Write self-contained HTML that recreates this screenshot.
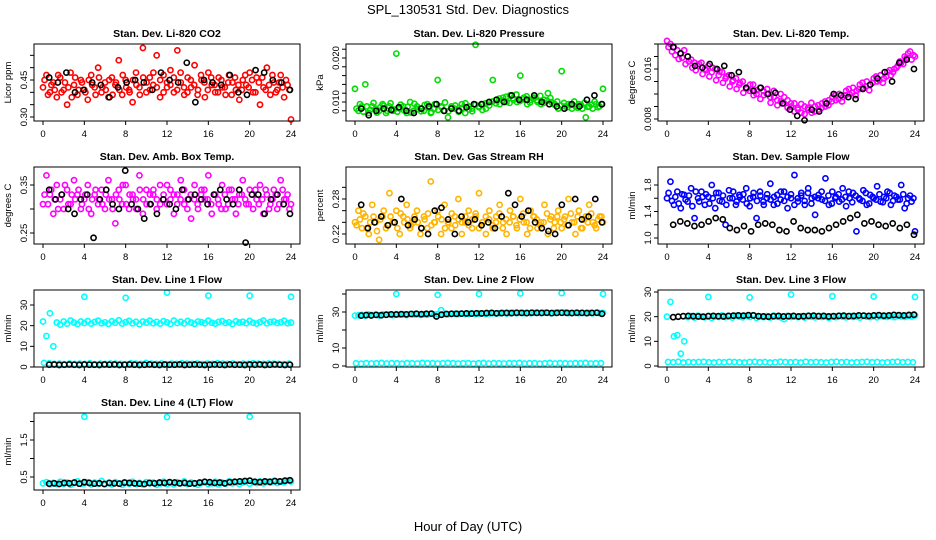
<!DOCTYPE html>
<html><head><meta charset="utf-8">
<style>
body{margin:0;background:#fff;}
svg{display:block;font-family:"Liberation Sans",sans-serif;}
</style></head>
<body>
<svg id="chart" width="936" height="540" viewBox="0 0 936 540" xmlns="http://www.w3.org/2000/svg">
<text x="468" y="14" text-anchor="middle" font-size="13">SPL_130531  Std. Dev. Diagnostics</text>
<text x="468" y="531" text-anchor="middle" font-size="13">Hour of Day (UTC)</text>
</svg>
<script>
// ---------- data ----------
const xTicks = [0,4,8,12,16,20,24];
const co2Red = [0.42,0.47,0.40,0.44,0.38,0.46,0.41,0.35,0.48,0.43,0.39,0.45,0.41,0.37,0.47,0.42,0.50,0.40,0.44,0.38,0.46,0.43,0.53,0.39,0.45,0.41,0.36,0.48,0.42,0.58,0.40,0.46,0.43,0.55,0.38,0.47,0.42,0.49,0.40,0.57,0.44,0.39,0.46,0.42,0.51,0.41,0.45,0.38,0.48,0.43,0.40,0.46,0.42,0.39,0.47,0.44,0.41,0.37,0.45,0.43,0.48,0.40,0.46,0.35,0.42,0.50,0.39,0.44,0.41,0.47,0.38,0.43,0.29];
const co2Red2 = [0.45,0.39,0.43,0.41,0.47,0.40,0.44,0.42,0.38,0.46,0.41,0.44,0.40,0.45,0.43,0.39,0.46,0.42,0.41,0.45,0.39,0.44,0.41,0.47,0.42,0.40,0.45,0.43,0.39,0.46,0.44,0.41,0.48,0.42,0.45,0.40,0.44,0.43,0.46,0.41,0.48,0.42,0.40,0.45,0.43,0.39,0.47,0.44,0.41,0.46,0.43,0.40,0.45,0.42,0.44,0.39,0.46,0.43,0.41,0.47,0.42,0.45,0.40,0.44,0.46,0.41,0.43,0.47,0.40,0.44,0.42,0.45,0.41];
const co2Black = [0.46,0.44,0.48,0.40,0.41,0.44,0.43,0.38,0.42,0.44,0.45,0.44,0.41,0.48,0.45,0.44,0.52,0.36,0.45,0.44,0.43,0.47,0.40,0.39,0.49,0.48,0.45,0.44,0.41];
const presGreen = [0.013,0.008,0.009,0.014,0.0075,0.009,0.0085,0.008,0.0095,0.0075,0.009,0.008,0.021,0.0085,0.009,0.0075,0.010,0.008,0.009,0.0085,0.008,0.0095,0.0075,0.0085,0.015,0.009,0.008,0.0065,0.009,0.0085,0.008,0.0095,0.0075,0.009,0.0085,0.023,0.009,0.0095,0.0085,0.010,0.015,0.0105,0.0095,0.011,0.010,0.0115,0.0105,0.010,0.016,0.011,0.0095,0.0105,0.011,0.010,0.0095,0.0105,0.012,0.010,0.0095,0.0085,0.017,0.009,0.0095,0.0085,0.009,0.0095,0.0085,0.0065,0.009,0.0085,0.0095,0.009,0.013];
const presGreen2 = [0.0085,0.0095,0.0078,0.009,0.0082,0.0098,0.0076,0.0088,0.0092,0.008,0.0097,0.0083,0.0078,0.0094,0.0081,0.0089,0.0076,0.0096,0.0084,0.0079,0.0093,0.0087,0.0077,0.0095,0.0082,0.0088,0.0099,0.0079,0.0086,0.0092,0.0078,0.0087,0.0097,0.0083,0.0079,0.0094,0.0088,0.0082,0.0097,0.0092,0.0101,0.0097,0.0108,0.0103,0.0112,0.0098,0.0109,0.0117,0.0102,0.0106,0.0113,0.0099,0.0108,0.0104,0.0114,0.0098,0.0103,0.0109,0.0095,0.0101,0.0092,0.0098,0.0088,0.0094,0.0101,0.0087,0.0093,0.0098,0.0089,0.0094,0.0101,0.0088,0.0095];
const presBlack = [0.0085,0.007,0.008,0.0085,0.0082,0.0088,0.008,0.0075,0.0085,0.009,0.0095,0.008,0.0085,0.008,0.0088,0.0095,0.0095,0.010,0.0105,0.010,0.0115,0.0105,0.0105,0.0115,0.010,0.0095,0.009,0.0085,0.0095,0.009,0.0105,0.0115,0.0095];
const tempMag = [0.0205,0.020,0.0195,0.019,0.0185,0.019,0.018,0.0175,0.017,0.0165,0.017,0.016,0.0165,0.0155,0.016,0.015,0.0155,0.0145,0.015,0.014,0.0145,0.0135,0.014,0.013,0.0125,0.0135,0.012,0.013,0.0125,0.012,0.0115,0.0125,0.011,0.012,0.0105,0.011,0.0100,0.0105,0.0095,0.0090,0.0100,0.0095,0.0090,0.0100,0.0095,0.0105,0.010,0.011,0.0115,0.011,0.012,0.0115,0.0125,0.012,0.013,0.0125,0.0135,0.013,0.014,0.0135,0.0145,0.014,0.015,0.0145,0.0155,0.015,0.016,0.0165,0.017,0.018,0.0185,0.0175,0.018];
const tempMag2 = [0.0195,0.0188,0.0182,0.0176,0.0178,0.0168,0.0172,0.0162,0.0158,0.0168,0.0152,0.0158,0.0148,0.0162,0.0142,0.0156,0.0138,0.0148,0.0132,0.0142,0.0128,0.0138,0.0122,0.0128,0.0135,0.0118,0.0126,0.0112,0.0118,0.0128,0.0106,0.0115,0.0102,0.0108,0.0115,0.0098,0.0105,0.0092,0.0098,0.0104,0.0088,0.0098,0.0106,0.0092,0.0102,0.0098,0.0108,0.0102,0.0108,0.0118,0.0112,0.0108,0.0118,0.0128,0.0122,0.0118,0.0128,0.0138,0.0132,0.0126,0.0138,0.0148,0.0142,0.0138,0.0148,0.0158,0.0155,0.0162,0.0172,0.0168,0.0178,0.0188,0.0182];
const tempBlack = [0.0195,0.0185,0.018,0.0165,0.0162,0.0168,0.016,0.0165,0.015,0.0155,0.013,0.0125,0.013,0.012,0.0122,0.0105,0.0095,0.0085,0.0078,0.0095,0.0092,0.0105,0.012,0.0118,0.0115,0.0112,0.0128,0.0135,0.0145,0.0155,0.014,0.017,0.0175,0.016];
const boxMag = [0.31,0.37,0.33,0.29,0.35,0.32,0.30,0.34,0.31,0.36,0.33,0.30,0.32,0.35,0.29,0.33,0.31,0.34,0.30,0.36,0.32,0.27,0.34,0.31,0.35,0.30,0.33,0.32,0.37,0.29,0.34,0.31,0.33,0.30,0.35,0.32,0.31,0.34,0.29,0.33,0.36,0.31,0.32,0.28,0.35,0.30,0.34,0.32,0.37,0.29,0.33,0.31,0.35,0.30,0.34,0.32,0.29,0.33,0.36,0.31,0.34,0.30,0.32,0.35,0.29,0.33,0.31,0.34,0.30,0.36,0.32,0.33,0.31];
const boxMag2 = [0.33,0.31,0.34,0.32,0.30,0.33,0.35,0.31,0.33,0.32,0.34,0.31,0.33,0.30,0.32,0.34,0.32,0.31,0.33,0.32,0.30,0.33,0.32,0.35,0.31,0.33,0.32,0.30,0.34,0.32,0.31,0.33,0.34,0.32,0.31,0.33,0.35,0.32,0.33,0.31,0.32,0.34,0.30,0.33,0.32,0.31,0.33,0.34,0.32,0.31,0.33,0.32,0.30,0.33,0.31,0.34,0.32,0.31,0.33,0.32,0.31,0.33,0.34,0.31,0.32,0.34,0.30,0.32,0.33,0.31,0.34,0.32,0.30];
const boxBlack = [0.34,0.32,0.33,0.30,0.29,0.32,0.33,0.24,0.32,0.34,0.31,0.30,0.38,0.31,0.30,0.28,0.31,0.29,0.32,0.31,0.30,0.34,0.32,0.33,0.32,0.31,0.33,0.34,0.32,0.31,0.34,0.23,0.33,0.33,0.29,0.32,0.33,0.31,0.29];
const rhOrange = [0.24,0.26,0.23,0.25,0.22,0.27,0.24,0.21,0.25,0.23,0.29,0.24,0.26,0.22,0.25,0.27,0.23,0.24,0.26,0.22,0.25,0.23,0.31,0.24,0.26,0.22,0.27,0.24,0.23,0.25,0.28,0.22,0.24,0.26,0.23,0.25,0.29,0.24,0.22,0.26,0.23,0.25,0.27,0.24,0.22,0.26,0.25,0.23,0.28,0.24,0.22,0.26,0.25,0.23,0.24,0.27,0.22,0.25,0.24,0.26,0.23,0.25,0.28,0.24,0.22,0.26,0.23,0.25,0.27,0.24,0.23,0.25,0.24];
const rhOrange2 = [0.235,0.245,0.255,0.23,0.24,0.25,0.225,0.245,0.26,0.235,0.25,0.24,0.23,0.255,0.24,0.245,0.235,0.25,0.24,0.23,0.245,0.255,0.235,0.24,0.25,0.245,0.23,0.24,0.255,0.235,0.245,0.24,0.25,0.235,0.245,0.255,0.23,0.24,0.25,0.245,0.235,0.24,0.255,0.23,0.245,0.24,0.25,0.235,0.245,0.255,0.24,0.23,0.25,0.245,0.235,0.24,0.255,0.245,0.23,0.25,0.24,0.245,0.235,0.255,0.24,0.25,0.23,0.245,0.24,0.255,0.235,0.245,0.25];
const rhBlack = [0.27,0.23,0.24,0.25,0.235,0.24,0.28,0.235,0.245,0.23,0.22,0.26,0.265,0.245,0.22,0.25,0.24,0.245,0.235,0.24,0.23,0.25,0.29,0.27,0.25,0.26,0.24,0.23,0.225,0.22,0.27,0.235,0.28,0.245,0.25,0.28,0.24];
const flowBlue = [1.6,1.85,1.5,1.7,1.45,1.65,1.55,1.75,1.3,1.6,1.7,1.5,1.62,1.8,1.45,1.68,1.55,1.2,1.72,1.6,1.5,1.65,1.58,1.75,1.48,1.62,1.3,1.7,1.55,1.6,1.82,1.5,1.65,1.58,1.7,1.45,1.6,1.95,1.55,1.68,1.5,1.75,1.6,1.35,1.65,1.58,1.9,1.5,1.7,1.62,1.55,1.75,1.48,1.6,1.68,1.1,1.58,1.72,1.5,1.65,1.6,1.78,1.55,1.62,1.7,1.5,1.64,1.58,1.8,1.45,1.6,1.55,1.1];
const flowBlue2 = [1.68,1.56,1.62,1.52,1.66,1.58,1.64,1.48,1.7,1.55,1.62,1.66,1.52,1.6,1.68,1.56,1.64,1.5,1.6,1.7,1.55,1.62,1.66,1.52,1.6,1.68,1.56,1.64,1.5,1.66,1.58,1.62,1.52,1.7,1.56,1.62,1.66,1.5,1.6,1.64,1.56,1.68,1.52,1.62,1.6,1.7,1.56,1.64,1.52,1.6,1.66,1.58,1.62,1.7,1.54,1.64,1.6,1.56,1.68,1.52,1.62,1.58,1.66,1.54,1.6,1.68,1.56,1.62,1.58,1.66,1.52,1.64,1.6];
const flowBlack = [1.2,1.25,1.22,1.18,1.2,1.25,1.3,1.28,1.15,1.12,1.18,1.1,1.2,1.22,1.2,1.12,1.1,1.25,1.15,1.12,1.12,1.1,1.15,1.2,1.25,1.3,1.35,1.22,1.25,1.2,1.18,1.22,1.15,1.2,1.05];
const l1Cyan = [22,15,26,10,21.5,20.5,22,21,22.5,21.5,20.8,22,21.3,22.2,21,21.8,22.4,21.2,21.6,20.9,22.1,21.4,22.6,21,21.7,22.3,21.1,21.9,20.7,22,21.5,22.4,21.2,21.8,21,22.2,21.6,20.8,22.5,21.3,21.9,21.1,22.3,21.5,20.9,22,21.7,21.2,22.4,21.4,21,21.8,22.2,21.3,21.6,20.8,22.1,21.5,21.9,21.2,22.3,21.4,21,21.7,22.5,21.1,21.8,22,21.3,21.6,22.4,21.2,21.5];
const l1CyanLow = [2,1.8,1.5,1.6,1.4,1.7,1.5,1.6,1.5,1.8,1.4,1.6,1.5,1.7,1.6,1.5,1.4,1.8,1.6,1.5,2,1.6,1.5,1.7,1.4,1.6,1.5,1.8,1.6,1.5,1.7,1.4,1.6,1.5,1.8,1.6,1.5,1.7,1.4,1.6,1.5,1.8,1.6,1.5,1.7,1.6,1.5,1.4,1.6];
const l1Black = [1.1,1.2,1,1.1,1.2,1.1,1,1.2,1.1,1.1,1,1.2,1.1,1.2,1,1.1,1.2,1.1,1,1.1,1.2,1.1,1,1.2,1.1,1.1,1.2,1,1.1,1.2,1.1,1,1.1,1.2,1.1,1,1.2,1.1,1.1,1,1.2,1.1,1.2,1,1.1,1.2,1.1,1,1.1];
const l1OutHours = [4,8,12,16,20,24];
const l1OutVals = [34,33.5,36,34.5,34.5,34];
const l2Cyan = [28,28.2,28.4,28,28.6,28.3,28.5,28.1,28.7,28.4,28.6,28.2,28.8,28.5,28.7,28.3,28.9,28.6,28.8,28.4,28.7,28.5,28.9,28.6,28.8,31,29,28.7,28.9,29,28.8,29.1,28.9,29,29.2,28.9,29.1,29.3,29,29.2,29.4,29.1,29.3,29.5,29.2,29.4,29.6,29.3,29.5,29.4,29.6,29.3,29.5,29.7,29.4,29.6,29.5,29.3,29.6,29.8,29.5,29.7,29.4,29.6,29.5,29.3,29.6,29.4,29.5,29.3,29.6,29.4,29.5];
const l2CyanLow = [1.5,1.3,1.6,1.4,1.5,1.7,1.4,1.6,1.5,1.3,1.6,1.5,1.4,1.7,1.5,1.6,1.4,1.5,1.7,1.6,1.4,1.5,1.6,1.3,1.5,1.7,1.4,1.6,1.5,1.4,1.6,1.5,1.7,1.4,1.5,1.6,1.3,1.5,1.7,1.4,1.6,1.5,1.4,1.6,1.5,1.7,1.4,1.5,1.6];
const l2Black = [28,28.3,28.1,28.4,28.2,28.5,28.7,28.6,28.8,28.7,28.9,29,28.8,29,29.1,27.5,28.5,28.9,29,29,29.1,29.2,29.1,29.3,29.2,29.4,29.5,29.3,29.4,29.5,29.4,29.6,29.5,29.4,29.6,29.5,29.5,29.6,29.4,29.5,29.6,29.5,29.4,29.6,29.5,29.4,29.5,29.6,29];
const l2OutHours = [4,8,12,16,20,24];
const l2OutVals = [40,39.5,40,40.3,40.5,40];
const l3Cyan = [20,26,12,12.5,5,10,19.8,20.2,19.6,20.4,20,19.7,20.3,19.5,20.1,19.9,20.5,19.8,20.2,19.6,20.4,20,19.7,20.3,19.9,20.6,19.5,20.1,19.8,20.2,19.6,20.4,20,19.7,19,20.3,19.9,20.1,19.8,20.2,19.6,20.4,20,19.7,20.3,19.9,20.1,19.5,20.2,19.8,20.4,20,19.7,20.3,19.9,20.1,19.6,20.4,20,19.8,20.2,19.7,20.3,20,19.9,20.2,19.8,20.4,20.1,19.9,20.3,20.1,20.5];
const l3CyanLow = [1.6,1.5,1.7,1.4,1.6,1.5,1.6,1.7,1.5,1.4,1.6,1.5,1.7,1.6,1.5,1.4,1.6,1.7,1.5,1.6,1.4,1.5,1.7,1.6,1.5,1.6,1.4,1.7,1.5,1.6,1.5,1.4,1.6,1.7,1.5,1.6,1.4,1.5,1.6,1.7,1.5,1.6,1.4,1.5,1.6,1.7,1.5,1.6,1.5];
const l3Black = [19.8,20,20.2,20.3,20.2,20.1,20,20.2,20.3,20.2,20.1,20.3,20.4,20.5,20.4,20.6,20.5,20.2,20.1,20,20.2,20.3,20.1,20.2,20.3,20.1,20.2,20.3,20.4,20.2,20.3,20.1,20.2,20.3,20.4,20.2,20.3,20.5,20.4,20.3,20.5,20.6,20.4,20.5,20.7,20.6,20.5,20.7,20.8];
const l3OutHours = [4,8,12,16,20,24];
const l3OutVals = [28,27.8,29,28.3,28.2,28];
const l4Cyan = [0.33,0.36,0.30,0.34,0.31,0.37,0.32,0.35,0.29,0.34,0.38,0.31,0.33,0.36,0.30,0.35,0.32,0.39,0.31,0.34,0.30,0.36,0.33,0.29,0.35,0.32,0.37,0.31,0.34,0.30,0.36,0.33,0.35,0.29,0.32,0.37,0.31,0.34,0.30,0.36,0.33,0.38,0.31,0.35,0.32,0.29,0.34,0.36,0.31,0.33,0.37,0.30,0.35,0.32,0.38,0.33,0.36,0.31,0.35,0.39,0.32,0.36,0.34,0.38,0.33,0.37,0.35,0.39,0.34,0.37,0.36,0.40,0.38];
const l4Black = [0.32,0.33,0.31,0.34,0.33,0.35,0.32,0.36,0.34,0.32,0.33,0.31,0.34,0.33,0.32,0.35,0.34,0.33,0.32,0.31,0.34,0.33,0.35,0.34,0.36,0.35,0.33,0.34,0.32,0.33,0.35,0.37,0.36,0.34,0.35,0.33,0.36,0.37,0.38,0.39,0.40,0.37,0.36,0.38,0.37,0.39,0.38,0.40,0.41];
const l4OutHours = [4,12,20];
const l4OutVals = [2.13,2.12,2.13];

// ---------- layout ----------
const NS = 'http://www.w3.org/2000/svg';
const svg = document.getElementById('chart');
const panels = [
 {name:'co2',col:0,row:0,title:'Stan. Dev. Li-820 CO2',ylab:'Licor ppm',cal:[0.30,117,0.45,80],ticks:[0.30,0.35,0.40,0.45,0.50,0.55],labels:['0.30','0.45'],fmt:2},
 {name:'pressure',col:1,row:0,title:'Stan. Dev. Li-820 Pressure',ylab:'kPa',cal:[0.010,102,0.020,58],ticks:[0.008,0.010,0.012,0.014,0.016,0.018,0.020,0.022],labels:['0.010','0.020'],fmt:3},
 {name:'temp',col:2,row:0,title:'Stan. Dev. Li-820 Temp.',ylab:'degrees C',cal:[0.008,119,0.016,69],ticks:[0.008,0.010,0.012,0.014,0.016,0.018,0.020],labels:['0.008','0.016'],fmt:3},
 {name:'box-temp',col:0,row:1,title:'Stan. Dev. Amb. Box Temp.',ylab:'degrees C',cal:[0.25,233,0.35,185],ticks:[0.25,0.30,0.35],labels:['0.25','0.35'],fmt:2},
 {name:'rh',col:1,row:1,title:'Stan. Dev. Gas Stream RH',ylab:'percent',cal:[0.22,234,0.28,199],ticks:[0.22,0.24,0.26,0.28,0.30],labels:['0.22','0.28'],fmt:2},
 {name:'sample-flow',col:2,row:1,title:'Stan. Dev. Sample Flow',ylab:'ml/min',cal:[1.0,238,1.8,185],ticks:[1.0,1.2,1.4,1.6,1.8],labels:['1.0','1.4','1.8'],fmt:1},
 {name:'line1',col:0,row:2,title:'Stan. Dev. Line 1 Flow',ylab:'ml/min',cal:[0,367,30,305],ticks:[0,10,20,30],labels:['0','10','20','30'],fmt:0},
 {name:'line2',col:1,row:2,title:'Stan. Dev. Line 2 Flow',ylab:'ml/min',cal:[0,366,30,312],ticks:[0,10,20,30,40],labels:['0','10','30'],fmt:0},
 {name:'line3',col:2,row:2,title:'Stan. Dev. Line 3 Flow',ylab:'ml/min',cal:[0,366,30,292],ticks:[0,10,20,30],labels:['0','10','20','30'],fmt:0},
 {name:'line4',col:0,row:3,title:'Stan. Dev. Line 4 (LT) Flow',ylab:'ml/min',cal:[0.5,477,1.5,440],ticks:[0.5,1.0,1.5,2.0],labels:['0.5','1.5'],fmt:1}
];
function mk(tag, attrs, parent){const e=document.createElementNS(NS,tag);for(const k in attrs)e.setAttribute(k,attrs[k]);(parent||svg).appendChild(e);return e;}
function boxOf(p){const L=34+p.col*312, T=44+p.row*123;return {L:L,R:L+266,T:T,B:T+77};}
function xs(p,h){return 43+p.col*312+h*248/24;}
function ys(p,v){const c=p.cal;return c[1]+(v-c[0])*(c[3]-c[1])/(c[2]-c[0]);}

const P={};
panels.forEach(p=>{
  P[p.name]=p;
  const b=boxOf(p);
  const g=mk('g',{});
  
  
  p.g=g;
  const t=mk('text',{x:(b.L+b.R)/2,y:b.T-7,'text-anchor':'middle','font-size':'10.5','font-weight':'bold'},g);
  t.textContent=p.title;
  
  
  const yl=mk('text',{x:0,y:0,'text-anchor':'middle','font-size':'9.5',transform:'translate('+(b.L-23)+','+((b.T+b.B)/2)+') rotate(-90)'},g);
  yl.textContent=p.ylab;
  
  
  const xa=mk('g',{},g);
  
  
  xTicks.forEach(h=>{
    const x=xs(p,h);
    mk('line',{x1:x,x2:x,y1:b.B,y2:b.B+4,stroke:'#000','stroke-width':1},xa);
    const tl=mk('text',{x:x,y:b.B+16,'text-anchor':'middle','font-size':'9.5'},xa);
    tl.textContent=String(h);
  });
  const ya=mk('g',{},g);
  
  
  p.ticks.forEach(v=>{
    const y=ys(p,v);
    if(y<b.T-1||y>b.B+1)return;
    mk('line',{x1:b.L-4,x2:b.L,y1:y,y2:y,stroke:'#000','stroke-width':1},ya);
    const s=v.toFixed(p.fmt);
    if(p.labels.indexOf(s)>=0){
      const tl=mk('text',{x:0,y:0,'text-anchor':'middle','font-size':'9.5',transform:'translate('+(b.L-7)+','+y+') rotate(-90)'},ya);
      tl.textContent=s;
    }
  });
  p.marks=mk('g',{},g);
  
  
  p.frame=b;
});

function draw(p, hours, vals, color, inner, label){
  const g=mk('g',{},p.marks);
  
  
  vals.forEach((v,i)=>{
    mk('circle',{cx:xs(p,hours[i]),cy:ys(p,v),r:2.6,fill:inner||'none',stroke:color,'stroke-width':1.6},g);
  });
}
function evenHours(n){const a=[];for(let i=0;i<n;i++)a.push(i*24/(n-1));return a;}
function midHours(n){const a=[];for(let i=0;i<n;i++)a.push(0.15+i*23.7/(n-1));return a;}
function blackHours(n){const a=[];for(let i=0;i<n;i++)a.push(0.6+i*23.3/(n-1));return a;}
function lowHours(n){const a=[];for(let i=0;i<n;i++)a.push(0.1+i*23.7/(n-1));return a;}

draw(P.co2,evenHours(co2Red.length),co2Red,'#ff0000',null,'co2-red-points');
draw(P.co2,midHours(co2Red2.length),co2Red2,'#ff0000',null,'co2-red-points-2');
draw(P.co2,blackHours(co2Black.length),co2Black,'#000',null,'co2-black-points');
draw(P.pressure,evenHours(presGreen.length),presGreen,'#00dd00',null,'pressure-green-points');
draw(P.pressure,midHours(presGreen2.length),presGreen2,'#00dd00',null,'pressure-green-points-2');
draw(P.pressure,blackHours(presBlack.length),presBlack,'#000',null,'pressure-black-points');
draw(P.temp,evenHours(tempMag.length),tempMag,'#ff00ff',null,'temp-magenta-points');
draw(P.temp,midHours(tempMag2.length),tempMag2,'#ff00ff',null,'temp-magenta-points-2');
draw(P.temp,blackHours(tempBlack.length),tempBlack,'#000',null,'temp-black-points');
draw(P['box-temp'],evenHours(boxMag.length),boxMag,'#ff00ff',null,'box-temp-magenta-points');
draw(P['box-temp'],midHours(boxMag2.length),boxMag2,'#ff00ff',null,'box-temp-magenta-points-2');
draw(P['box-temp'],blackHours(boxBlack.length),boxBlack,'#000',null,'box-temp-black-points');
draw(P.rh,evenHours(rhOrange.length),rhOrange,'#ffb400',null,'rh-orange-points');
draw(P.rh,midHours(rhOrange2.length),rhOrange2,'#ffb400',null,'rh-orange-points-2');
draw(P.rh,blackHours(rhBlack.length),rhBlack,'#000',null,'rh-black-points');
draw(P['sample-flow'],evenHours(flowBlue.length),flowBlue,'#0000ff',null,'sample-flow-blue-points');
draw(P['sample-flow'],midHours(flowBlue2.length),flowBlue2,'#0000ff',null,'sample-flow-blue-points-2');
draw(P['sample-flow'],blackHours(flowBlack.length),flowBlack,'#000',null,'sample-flow-black-points');
draw(P.line1,evenHours(l1Cyan.length),l1Cyan,'#00ffff',null,'line1-cyan-points');
draw(P.line1,lowHours(l1CyanLow.length),l1CyanLow,'#00ffff',null,'line1-cyan-low-points');
draw(P.line1,l1OutHours,l1OutVals,'#00ffff',null,'line1-outliers');
draw(P.line1,blackHours(l1Black.length),l1Black,'#000',null,'line1-black-points');
draw(P.line2,evenHours(l2Cyan.length),l2Cyan,'#00ffff',null,'line2-cyan-points');
draw(P.line2,lowHours(l2CyanLow.length),l2CyanLow,'#00ffff',null,'line2-cyan-low-points');
draw(P.line2,l2OutHours,l2OutVals,'#00ffff',null,'line2-outliers');
draw(P.line2,blackHours(l2Black.length),l2Black,'#000',null,'line2-black-points');
draw(P.line3,evenHours(l3Cyan.length),l3Cyan,'#00ffff',null,'line3-cyan-points');
draw(P.line3,lowHours(l3CyanLow.length),l3CyanLow,'#00ffff',null,'line3-cyan-low-points');
draw(P.line3,l3OutHours,l3OutVals,'#00ffff',null,'line3-outliers');
draw(P.line3,blackHours(l3Black.length),l3Black,'#000',null,'line3-black-points');
draw(P.line4,evenHours(l4Cyan.length),l4Cyan,'#00ffff',null,'line4-cyan-points');
draw(P.line4,l4OutHours,l4OutVals,'#00ffff',null,'line4-outliers');
draw(P.line4,blackHours(l4Black.length),l4Black,'#000',null,'line4-black-points');

panels.forEach(p=>{
  const b=p.frame;
  const r=mk('rect',{x:b.L,y:b.T,width:b.R-b.L,height:b.B-b.T,fill:'none',stroke:'#000','stroke-width':1},p.g);
  
  
});
</script>
</body></html>
